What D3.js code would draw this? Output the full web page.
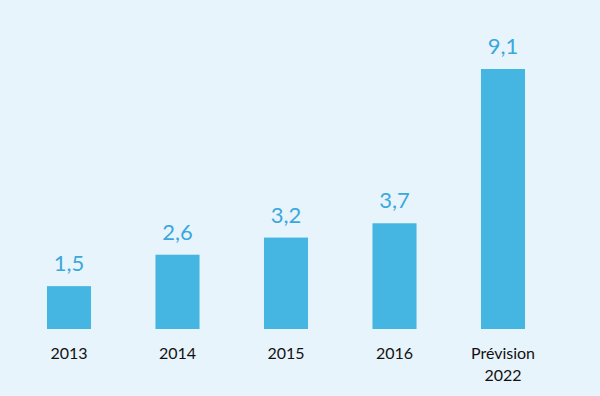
<!DOCTYPE html>
<html>
<head>
<meta charset="utf-8">
<script src="https://cdn.jsdelivr.net/npm/d3@7"></script>
<style>
  html, body { margin: 0; padding: 0; background: #e8f4fb; }
  svg { display: block; }
</style>
</head>
<body>
<svg id="chart" width="600" height="396"></svg>
<script>
// chart data
var categories = ["2013", "2014", "2015", "2016", "Prévision 2022"];
var values = [1.5, 2.6, 3.2, 3.7, 9.1];
var valueLabels = ["1,5", "2,6", "3,2", "3,7", "9,1"];

var width = 600, height = 396;
var svg = d3.select("#chart");

svg.append("rect")
    .attr("width", width)
    .attr("height", height)
    .style("fill", "#e8f4fb");

var x = d3.scaleBand()
    .domain(categories)
    .range([14.75, 557.25])
    .paddingInner(0.594)
    .paddingOuter(0.297);

var y = d3.scaleLinear()
    .domain([0, 9.1])
    .range([329, 69]);

svg.selectAll("rect.bar")
    .data(values)
    .enter().append("rect")
    .attr("class", "bar")
    .attr("x", function(d, i) { return x(categories[i]); })
    .attr("y", function(d) { return y(d); })
    .attr("width", x.bandwidth())
    .attr("height", function(d) { return y(0) - y(d); })
    .style("fill", "#44b6e1");

svg.selectAll("text.value")
    .data(values)
    .enter().append("text")
    .attr("class", "value")
    .attr("x", function(d, i) { return x(categories[i]) + x.bandwidth() / 2; })
    .attr("y", function(d) { return y(d) - 15; })
    .attr("text-anchor", "middle")
    .style("font-family", "Lato, 'Open Sans', sans-serif")
    .style("font-size", "22px")
    .style("fill", "#3aa8dc")
    .text(function(d, i) { return valueLabels[i]; });

// category labels, split on the space for the last one
var xAxis = svg.append("g");
categories.forEach(function(c) {
    var lines = c.indexOf(" ") > 0 ? c.split(" ") : [c];
    var t = xAxis.append("text")
        .attr("x", x(c) + x.bandwidth() / 2)
        .attr("y", 359)
        .attr("text-anchor", "middle")
        .style("font-family", "Lato, 'Open Sans', sans-serif")
        .style("font-size", "16px")
        .style("fill", "#111");
    lines.forEach(function(l, j) {
        t.append("tspan")
            .attr("x", x(c) + x.bandwidth() / 2)
            .attr("dy", j == 0 ? 0 : 22)
            .text(l);
    });
});
</script>
</body>
</html>
